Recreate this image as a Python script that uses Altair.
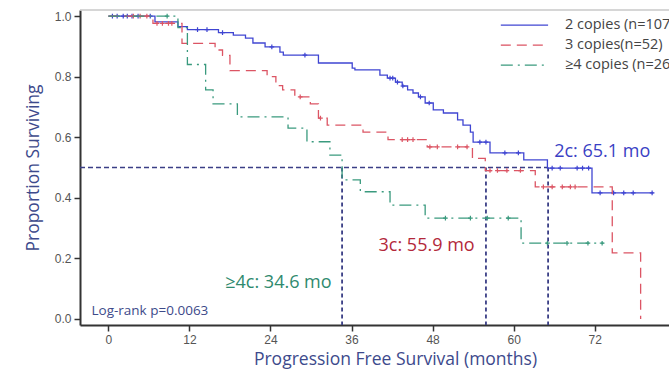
import altair as alt
import pandas as pd

# ---- data ----
blue_t = [0, 6.9, 10.3, 11.7, 16.3, 18.5, 20.3, 21.4, 23.2, 25.4, 25.9, 31.1, 36.1, 36.5, 40.2, 41.3,
          42.5, 43.5, 44.3, 45.1, 45.9, 46.9, 48.1, 49.6, 51.7, 52.5, 53.6, 54.0, 56.5, 61.5, 65.0, 71.6, 80.7]
blue_s = [1.0, 0.981, 0.965, 0.955, 0.945, 0.937, 0.927, 0.911, 0.898, 0.881, 0.871, 0.845, 0.828, 0.822,
          0.805, 0.795, 0.782, 0.769, 0.756, 0.746, 0.733, 0.713, 0.69, 0.68, 0.657, 0.64, 0.617, 0.584,
          0.548, 0.525, 0.498, 0.416, 0.416]
blue_c = [0.6, 1.3, 2.2, 2.8, 3.5, 4.4, 6.2, 13.2, 14.6, 16.9, 24.2, 29.1, 41.7, 42.1, 42.8, 43.6, 46.2,
          47.5, 55.0, 55.9, 58.7, 60.7, 65.7, 66.9, 69.4, 70.2, 71.1, 72.8, 74.8, 76.3, 77.7, 80.5]

red_t = [0, 6.6, 10.9, 15.8, 16.9, 18.0, 23.5, 24.8, 25.8, 27.6, 29.9, 31.1, 32.4, 37.7, 41.4, 47.2,
         53.9, 55.8, 63.2, 74.6, 78.8]
red_s = [1.0, 0.976, 0.91, 0.888, 0.87, 0.82, 0.80, 0.77, 0.756, 0.733, 0.71, 0.663, 0.64, 0.617, 0.592,
         0.568, 0.53, 0.49, 0.436, 0.218, 0.0]
red_c = [3.7, 4.7, 5.7, 7.2, 8.0, 8.9, 9.4, 28.4, 31.4, 43.5, 44.3, 45.1, 47.6, 48.7, 51.7, 53.1, 56.5,
         57.6, 59.0, 61.0, 64.4, 65.7, 67.2, 68.4, 69.1]

green_t = [0, 10.3, 11.7, 14.4, 15.5, 19.1, 26.6, 29.4, 32.8, 34.6, 37.3, 41.7, 46.9, 61.1, 73.3]
green_s = [1.0, 0.962, 0.84, 0.756, 0.71, 0.667, 0.63, 0.585, 0.541, 0.459, 0.42, 0.376, 0.333, 0.25, 0.25]
green_c = [8.7, 49.9, 53.6, 56.1, 59.2, 65.0, 67.9, 71.0, 73.1]

groups = ["2 copies (n=107)", "3 copies(n=52)", "≥4 copies (n=26)"]
colors = ["#3f45d2", "#dc5564", "#3a9a7e"]
dashes = [[1, 0], [10, 6], [12, 5, 2, 5]]
medians = [65.1, 55.9, 34.6]
median_labels = ["2c: 65.1 mo", "3c: 55.9 mo", "≥4c: 34.6 mo"]
label_colors = ["#3a3fc4", "#b3283a", "#2f8a6e"]
label_x = [66.0, 40.0, 17.3]
label_y = [0.552, 0.24, 0.12]

x_ticks = [0, 12, 24, 36, 48, 60, 72]
y_ticks = [0.0, 0.2, 0.4, 0.6, 0.8, 1.0]
XMIN, XMAX = -4.2, 83.0
YMIN, YMAX = -0.02, 1.02

def step_val(ts, ss, t):
    v = ss[0]
    for ti, si in zip(ts, ss):
        if ti <= t:
            v = si
    return v

xs = alt.Scale(domain=[XMIN, XMAX], nice=False, zero=False)
ys = alt.Scale(domain=[YMIN, YMAX], nice=False, zero=False)

layers = []
curves = [(blue_t, blue_s, blue_c), (red_t, red_s, red_c), (green_t, green_s, green_c)]
for i, (ts, ss, cs) in enumerate(curves):
    df = pd.DataFrame({"t": ts, "s": ss})
    line = alt.Chart(df).mark_line(interpolate="step-after", color=colors[i], strokeDash=dashes[i],
                                   strokeWidth=1.3).encode(
        x=alt.X("t:Q", scale=xs), y=alt.Y("s:Q", scale=ys))
    layers.append(line)
    cdf = pd.DataFrame({"t": cs, "s": [step_val(ts, ss, c) for c in cs]})
    pts = alt.Chart(cdf).mark_point(shape="M-1,0L1,0M0,-1L0,1", filled=False, color=colors[i],
                                    size=22, strokeWidth=1.2, opacity=1).encode(
        x=alt.X("t:Q", scale=xs), y=alt.Y("s:Q", scale=ys))
    layers.append(pts)

# median reference lines
hdf = pd.DataFrame({"x": [XMIN], "x2": [max(medians)], "y": [0.5]})
hline = alt.Chart(hdf).mark_rule(color="#3b3f86", strokeDash=[5, 3], strokeWidth=1.3).encode(
    x=alt.X("x:Q", scale=xs), x2="x2:Q", y=alt.Y("y:Q", scale=ys))
vdf = pd.DataFrame({"x": medians, "y": [0.5] * 3, "y2": [YMIN] * 3})
vline = alt.Chart(vdf).mark_rule(color="#3b3f86", strokeDash=[4, 3], strokeWidth=1.8).encode(
    x=alt.X("x:Q", scale=xs), y=alt.Y("y:Q", scale=ys), y2="y2:Q")
layers = [hline, vline] + layers

# median labels
for i in range(3):
    ldf = pd.DataFrame({"x": [label_x[i]], "y": [label_y[i]], "txt": [median_labels[i]]})
    layers.append(alt.Chart(ldf).mark_text(align="left", baseline="middle", font="Open Sans",
                                           fontSize=18, color=label_colors[i]).encode(
        x=alt.X("x:Q", scale=xs), y=alt.Y("y:Q", scale=ys), text="txt:N"))

# log-rank text
lr = pd.DataFrame({"x": [-2.5], "y": [0.026], "txt": ["Log-rank p=0.0063"]})
layers.append(alt.Chart(lr).mark_text(align="left", baseline="middle", font="Open Sans", fontSize=13.5,
                                      color="#3d4a8a").encode(
    x=alt.X("x:Q", scale=xs), y=alt.Y("y:Q", scale=ys), text="txt:N"))

# legend (drawn manually)
leg_y = [0.97, 0.904, 0.838]
for i in range(3):
    sdf = pd.DataFrame({"x": [58.1], "x2": [65.1], "y": [leg_y[i]]})
    layers.append(alt.Chart(sdf).mark_rule(color=colors[i], strokeDash=dashes[i], strokeWidth=1.3).encode(
        x=alt.X("x:Q", scale=xs), x2="x2:Q", y=alt.Y("y:Q", scale=ys)))
    tdf = pd.DataFrame({"x": [67.6], "y": [leg_y[i]], "txt": [groups[i]]})
    layers.append(alt.Chart(tdf).mark_text(align="left", baseline="middle", font="Open Sans",
                                           fontSize=14.5, color="#444444", clip=True).encode(
        x=alt.X("x:Q", scale=xs), y=alt.Y("y:Q", scale=ys), text="txt:N"))

# top border
tb = pd.DataFrame({"x": [XMIN], "x2": [XMAX], "y": [YMAX]})
layers.append(alt.Chart(tb).mark_rule(color="#c8c8c8", strokeWidth=1.5).encode(
    x=alt.X("x:Q", scale=xs), x2="x2:Q", y=alt.Y("y:Q", scale=ys)))

# axis carrier layer
adf = pd.DataFrame({"t": [0.0], "s": [0.0]})
axes = alt.Chart(adf).mark_point(opacity=0).encode(
    x=alt.X("t:Q", scale=xs, axis=alt.Axis(values=x_ticks, title="Progression Free Survival (months)",
                                           titleX=315, titlePadding=5)),
    y=alt.Y("s:Q", scale=ys, axis=alt.Axis(values=y_ticks, format=".1f", title="Proportion Surviving",
                                           titlePadding=12)))
layers = [axes] + layers

chart = alt.layer(*layers).properties(
    width=589, height=315,
    background="white",
    padding={"left": 80, "top": 10, "right": 0, "bottom": 46},
    autosize=alt.AutoSizeParams(type="none"),
).configure_view(stroke=None).configure_axis(
    grid=False, domainColor="#333333", domainWidth=2, tickColor="#333333", tickWidth=1.5, tickSize=6,
    labelFont="Liberation Sans", labelFontSize=12, labelColor="#555555", labelPadding=3,
    titleFont="Open Sans", titleFontSize=17.5, titleColor="#3d4a8c", titleFontWeight="normal",
)

chart.save("out.html", embed_options={"renderer": "svg", "actions": False})
